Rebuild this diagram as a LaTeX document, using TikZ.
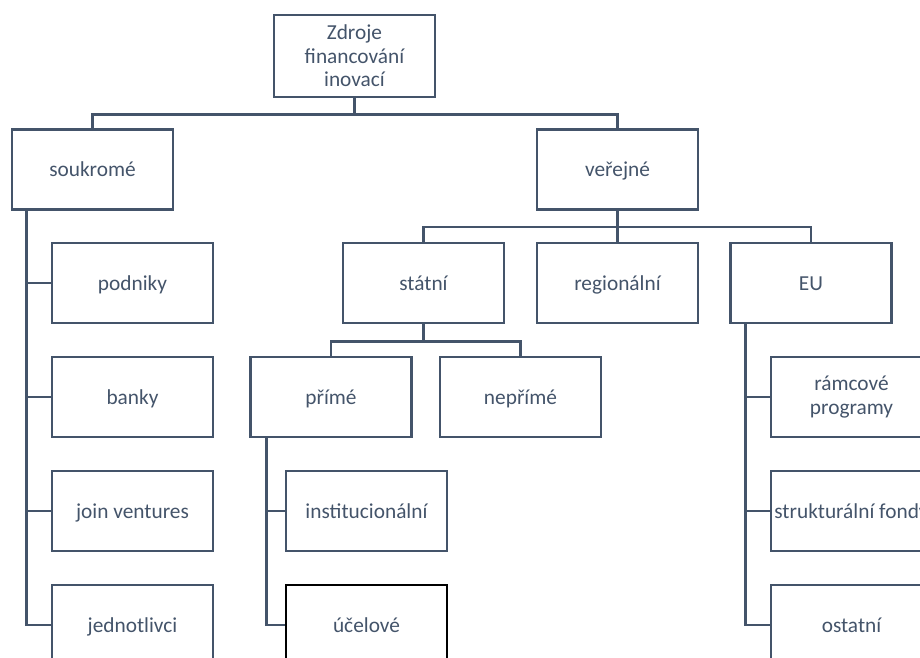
\documentclass[tikz,border=0pt]{standalone}
\usepackage{fontspec}
\setmainfont{Carlito}
\usetikzlibrary{calc}
\definecolor{slate}{HTML}{44546A}
\tikzset{
  box/.style={draw=slate, line width=2pt, rectangle, minimum width=120.75pt, minimum height=60pt, inner sep=0pt, text=slate, font=\fontsize{16}{17.6}\selectfont, align=center},
  oneline/.style={box, text height=10.5pt, text depth=0pt},
  conn/.style={draw=slate, line width=2pt},
}
\begin{document}
\begin{tikzpicture}[x=0.75pt, y=-0.75pt, line join=miter]
\useasboundingbox (0,0) rectangle (920,657);
\clip (0,0) rectangle (920,657);
\node[box, minimum height=61.5pt] (root) at (354.5,56) {Zdroje\\financování\\inovací};
\node[oneline] (souk) at (92.5,169.5) {soukromé};
\node[oneline] (ver) at (617.5,169.5) {veřejné};
\node[oneline] (podn) at (132.5,283) {podniky};
\node[oneline] (bank) at (132.5,397) {banky};
\node[oneline] (join) at (132.5,511) {join ventures};
\node[oneline] (jedn) at (132.5,625) {jednotlivci};
\node[oneline] (stat) at (423.5,283) {státní};
\node[oneline] (reg) at (617.5,283) {regionální};
\node[oneline] (eu) at (811,283) {EU};
\node[oneline] (prim) at (331,397) {přímé};
\node[oneline] (neprim) at (520.5,397) {nepřímé};
\node[oneline] (inst) at (366.5,511) {institucionální};
\node[oneline, draw=black] (ucel) at (366.5,625) {účelové};
\node[box] (ramc) at (851.5,397) {rámcové\\programy};
\node[oneline] (strk) at (851.5,511) {strukturální fondy};
\node[oneline] (ost) at (851.5,625) {ostatní};
% connectors
\draw[conn] (root.south) -- ++(0,16) -| (souk.north);
\draw[conn] (root.south) -- ++(0,16) -| (ver.north);
\draw[conn] (souk.south west) ++(16,0) |- (podn.west);
\draw[conn] (souk.south west) ++(16,0) |- (bank.west);
\draw[conn] (souk.south west) ++(16,0) |- (join.west);
\draw[conn] (souk.south west) ++(16,0) |- (jedn.west);
\draw[conn] (ver.south) -- ++(0,16) -| (stat.north);
\draw[conn] (ver.south) -- (reg.north);
\draw[conn] (ver.south) -- ++(0,16) -| (eu.north);
\draw[conn] (stat.south) -- ++(0,17) -| (prim.north);
\draw[conn] (stat.south) -- ++(0,17) -| (neprim.north);
\draw[conn] (prim.south west) ++(17,0) |- (inst.west);
\draw[conn] (prim.south west) ++(17,0) |- (ucel.west);
\draw[conn] (eu.south west) ++(16,0) |- (ramc.west);
\draw[conn] (eu.south west) ++(16,0) |- (strk.west);
\draw[conn] (eu.south west) ++(16,0) |- (ost.west);
\end{tikzpicture}
\end{document}
